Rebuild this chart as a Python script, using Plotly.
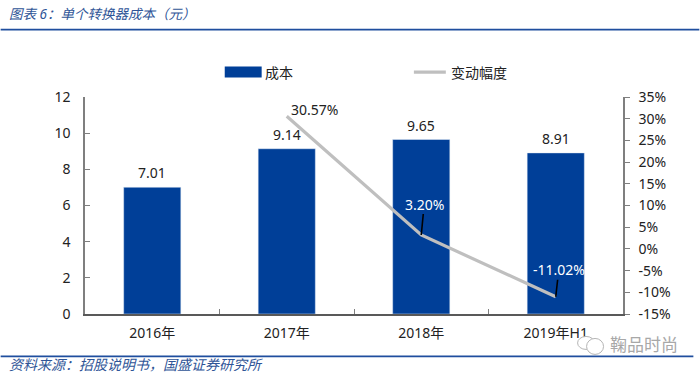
import plotly.graph_objects as go

categories = ["2016年", "2017年", "2018年", "2019年H1"]
cost = [7.01, 9.14, 9.65, 8.91]
change_categories = ["2017年", "2018年", "2019年H1"]
change = [30.57, 3.20, -11.02]
left_ticks = [0, 2, 4, 6, 8, 10, 12]
right_ticks = [-15, -10, -5, 0, 5, 10, 15, 20, 25, 30, 35]

W, H = 700, 377
L, R, T, B = 84.5, 623.5, 97, 314.5
FONT = "Noto Sans, Noto Sans CJK SC, sans-serif"
BLUE = "#003F98"
GREY = "#BFBFBF"
AXIS = "#7F7F7F"

def px(x): return (x - L) / (R - L)
def py(y): return (B - y) / (B - T)

fig = go.Figure()
fig.add_bar(x=categories, y=cost, name="成本", width=0.425, marker_color=BLUE, showlegend=False)
fig.add_scatter(x=change_categories, y=change, yaxis="y2", mode="lines", name="变动幅度",
                line=dict(color=GREY, width=3.2), showlegend=False, cliponaxis=False)

annotations = []
for c, v in zip(categories, cost):
    annotations.append(dict(x=c, y=v, xref="x", yref="y", text=f"{v:.2f}", showarrow=False,
                            yanchor="bottom", yshift=4, borderpad=0,
                            font=dict(size=14, color="#222", family=FONT)))

def note(text, xv, yv, color, ax, ay, arrowcolor):
    annotations.append(dict(x=xv, y=yv, xref="x", yref="y2", text=text, showarrow=True,
                            ax=ax, ay=ay, arrowhead=0, arrowwidth=1.6, arrowcolor=arrowcolor,
                            font=dict(size=14, color=color, family=FONT), borderpad=0))
note(f"{change[0]:.2f}%", change_categories[0], change[0], "#222", 28, -7, "rgba(0,0,0,0)")
note(f"{change[1]:.2f}%", change_categories[1], change[1], "#FFFFFF", 3, -31, "#000")
note(f"{change[2]:.2f}%", change_categories[2], change[2], "#FFFFFF", 3, -27, "#000")

def text_at(t, x, y, size, color, italic=False, anchor="left"):
    annotations.append(dict(x=px(x), y=py(y), xref="paper", yref="paper", text=t, showarrow=False,
                            xanchor=anchor, yanchor="middle", borderpad=0,
                            font=dict(size=size, color=color, family=FONT,
                                      style="italic" if italic else "normal")))

text_at("图表 6：单个转换器成本（元）", 7, 14, 13.5, "#2F5597", True)
text_at("资料来源：招股说明书，国盛证券研究所", 7, 365, 14, "#2F5597", True)
text_at("成本", 264, 72, 14, "#222")
text_at("变动幅度", 450, 72, 14, "#222")
text_at("鞠品时尚", 609, 345, 17, "#A8A8A8")

def rule(x0, y0, x1, y1, color, width, layer="above"):
    return dict(type="line", xref="paper", yref="paper", x0=px(x0), x1=px(x1), y0=py(y0), y1=py(y1),
                line=dict(color=color, width=width), layer=layer)
def circle(x0, y0, x1, y1):
    return dict(type="circle", xref="paper", yref="paper", x0=px(x0), x1=px(x1), y0=py(y0), y1=py(y1),
                line=dict(color="#B5B5B5", width=1), fillcolor="#FFFFFF", layer="above")

shapes = [
    rule(0, 29.5, 700, 29.5, "#1F4E9E", 1.6),
    rule(0, 357, 694, 357, "#1F4E9E", 1.6),
    rule(224.5, 72, 261.5, 72, BLUE, 11),
    rule(414, 72, 446, 72, GREY, 3.2),
    circle(578, 337, 595, 350),
    circle(587, 339, 604, 355),
]

fig.update_layout(
    width=W, height=H, margin=dict(l=L, r=W - R, t=T, b=H - B, autoexpand=False),
    paper_bgcolor="white", plot_bgcolor="white", showlegend=False,
    font=dict(family=FONT, size=14, color="#222"),
    annotations=annotations, shapes=shapes, bargap=0.575,
    xaxis=dict(type="category", categoryorder="array", categoryarray=categories,
               range=[-0.5, 3.5], tickson="boundaries", ticks="inside", ticklen=5, tickcolor=AXIS,
               showline=True, linecolor="#595959", linewidth=1.5, showgrid=False,
               tickfont=dict(size=14, color="#222"), ticklabelstandoff=5),
    yaxis=dict(range=[0, 12], tickvals=left_ticks, ticks="inside", ticklen=5, tickcolor=AXIS,
               showline=True, linecolor=AXIS, linewidth=1.5, showgrid=False, zeroline=False,
               tickfont=dict(size=14, color="#222"), ticklabelstandoff=10),
    yaxis2=dict(overlaying="y", side="right", range=[-15, 35], tickvals=right_ticks,
                ticktext=[f"{v}%" for v in right_ticks], ticks="outside", ticklen=5, tickcolor=AXIS,
                showline=True, linecolor=AXIS, linewidth=1.5, showgrid=False, zeroline=False,
                tickfont=dict(size=14, color="#222"), ticklabelstandoff=6),
)
fig.write_html("out.html", config={"displayModeBar": False},
               post_script="document.body.style.margin='0';document.documentElement.style.overflow='hidden';")
